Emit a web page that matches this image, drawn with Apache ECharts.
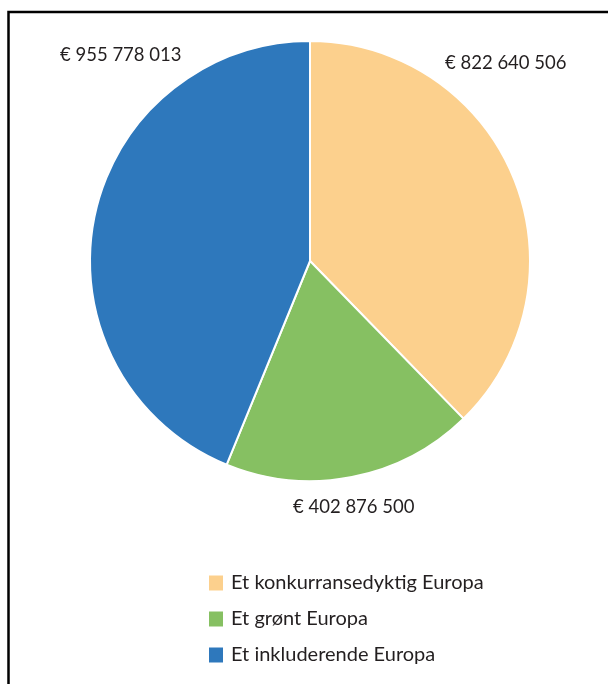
<!DOCTYPE html>
<html>
<head>
<meta charset="UTF-8">
<title></title>
<script src="https://cdn.jsdelivr.net/npm/echarts@6/dist/echarts.min.js"></script>
<style>
  html, body { margin: 0; padding: 0; background: #fff; }
</style>
</head>
<body>
<div id="main" style="width: 608px; height: 684px;"></div>
<script>
// data
var categories = ['Et konkurransedyktig Europa', 'Et grønt Europa', 'Et inkluderende Europa'];
var values = [822640506, 402876500, 955778013];
var colors = ['#FCD08D', '#86C062', '#2E78BC'];

// where each value label sits (left x, middle y)
var labelPos = [[445, 63], [293, 507], [60, 55]];

function fmt(v) {
  return '€ ' + String(v).replace(/\B(?=(\d{3})+(?!\d))/g, ' ');
}

var myChart = echarts.init(document.getElementById('main'));

var option = {
  animation: false,
  color: colors,
  textStyle: { fontFamily: 'Lato', color: '#231F20' },
  graphic: [{
    type: 'polyline',
    shape: { points: [[8.5, 684], [8.5, 12], [610, 12]] },
    style: { stroke: '#000', lineWidth: 2.5, fill: null }
  }],
  legend: {
    orient: 'vertical',
    left: 207,
    top: 573,
    padding: 0,
    itemWidth: 16,
    itemHeight: 17,
    itemGap: 16,
    icon: 'rect',
    textStyle: { fontSize: 20, color: '#231F20', padding: [0, 0, 0, 2], lineHeight: 19 },
    data: categories
  },
  series: [{
    type: 'pie',
    center: [310, 261],
    radius: [0, 220],
    startAngle: 90,
    clockwise: true,
    itemStyle: { borderColor: '#fff', borderWidth: 2 },
    label: {
      show: true,
      position: 'outside',
      fontSize: 18.5,
      color: '#231F20',
      overflow: 'none',
      formatter: function (p) { return fmt(p.value); }
    },
    labelLine: { show: false },
    labelLayout: function (p) {
      var pos = labelPos[p.dataIndex];
      return { x: pos[0], y: pos[1], align: 'left', verticalAlign: 'middle' };
    },
    emphasis: { disabled: true },
    data: categories.map(function (c, i) { return { name: c, value: values[i] }; })
  }]
};

myChart.setOption(option);
</script>
</body>
</html>
